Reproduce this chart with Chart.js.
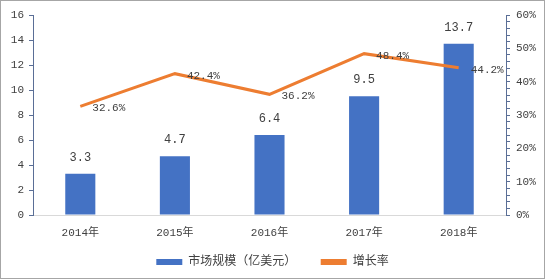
<!DOCTYPE html>
<html>
<head>
<meta charset="utf-8">
<script src="https://cdn.jsdelivr.net/npm/chart.js@4"></script>
<style>
html,body{margin:0;padding:0;background:#fff;}
#wrap{width:545px;height:279px;position:relative;}
</style>
</head>
<body>
<div id="wrap"><canvas id="c" width="545" height="279"></canvas></div>
<script>
const categories = ['2014年', '2015年', '2016年', '2017年', '2018年'];
const marketSize = [3.3, 4.7, 6.4, 9.5, 13.7];
const growthRate = [32.6, 42.4, 36.2, 48.4, 44.2];
const seriesNames = ['市场规模（亿美元）', '增长率'];

const FONT = "'Liberation Mono', 'Noto Sans CJK SC', monospace";
const TXT = '#404040';

const labelPlugin = {
  id: 'labels',
  afterDatasetsDraw(chart) {
    const ctx = chart.ctx;
    ctx.save();
    ctx.fillStyle = TXT;
    ctx.font = '12px ' + FONT;
    const m0 = chart.getDatasetMeta(0);
    m0.data.forEach((el, i) => {
      ctx.textAlign = 'center';
      ctx.textBaseline = 'middle';
      ctx.fillText(marketSize[i].toFixed(1), el.x, el.y - 16);
    });
    ctx.font = '11px ' + FONT;
    const m1 = chart.getDatasetMeta(1);
    m1.data.forEach((el, i) => {
      ctx.textAlign = 'left';
      ctx.textBaseline = 'middle';
      ctx.fillText(growthRate[i].toFixed(1) + '%', el.x + 12, el.y + 2);
    });
    ctx.restore();
  }
};
const borderPlugin = {
  id: 'frame',
  afterDraw(chart) {
    const ctx = chart.ctx;
    ctx.save();
    ctx.strokeStyle = '#A6A6A6';
    ctx.lineWidth = 1;
    ctx.strokeRect(0.5, 0.5, chart.width - 1, chart.height - 1);
    ctx.restore();
  }
};

new Chart(document.getElementById('c'), {
  data: {
    labels: categories,
    datasets: [
      {
        type: 'bar',
        label: seriesNames[0],
        data: marketSize,
        backgroundColor: '#4472C4',
        borderWidth: 0,
        yAxisID: 'y',
        categoryPercentage: 1,
        barPercentage: 0.318,
        order: 2
      },
      {
        type: 'line',
        label: seriesNames[1],
        data: growthRate,
        borderColor: '#ED7D31',
        backgroundColor: '#ED7D31',
        borderWidth: 3,
        pointRadius: 0,
        tension: 0,
        yAxisID: 'y1',
        order: 1
      }
    ]
  },
  options: {
    responsive: false,
    animation: false,
    layout: { padding: { top: 15, bottom: 1, left: 0, right: 0 } },
    plugins: {
      tooltip: { enabled: false },
      legend: {
        position: 'bottom',
        labels: {
          font: { size: 12, family: FONT },
          color: TXT,
          boxWidth: 26,
          boxHeight: 6,
          padding: 10,
          sort: (a, b) => a.datasetIndex - b.datasetIndex,
          generateLabels(chart) {
            const items = Chart.defaults.plugins.legend.labels.generateLabels(chart);
            items.forEach(it => {
              it.lineWidth = 0;
              if (it.datasetIndex === 0) it.text = it.text + '  ';
            });
            return items;
          }
        }
      }
    },
    scales: {
      x: {
        grid: { display: false, drawTicks: false },
        border: { display: true, color: '#D9D9D9', width: 1 },
        ticks: { font: { size: 11, family: FONT }, color: TXT, padding: 11 },
        afterFit(s) { s.height = 31; }
      },
      y: {
        position: 'left',
        min: 0, max: 16,
        ticks: { stepSize: 2, font: { size: 11, family: FONT }, color: TXT, padding: 5 },
        grid: { display: true, drawOnChartArea: false, drawTicks: true, tickLength: 4, color: '#5A6E96' },
        border: { display: true, color: '#5A6E96', width: 1 },
        afterFit(s) { s.width = 33; }
      },
      y1: {
        position: 'right',
        min: 0, max: 60,
        ticks: {
          stepSize: 2,
          autoSkip: false,
          font: { size: 11, family: FONT },
          color: TXT,
          padding: 6,
          callback: v => (v % 10 === 0 ? v + '%' : '')
        },
        grid: { display: true, drawOnChartArea: false, drawTicks: true, tickLength: 4, color: '#5A6E96' },
        border: { display: true, color: '#5A6E96', width: 1 },
        afterFit(s) { s.width = 39; }
      }
    }
  },
  plugins: [labelPlugin, borderPlugin]
});
</script>
</body>
</html>
